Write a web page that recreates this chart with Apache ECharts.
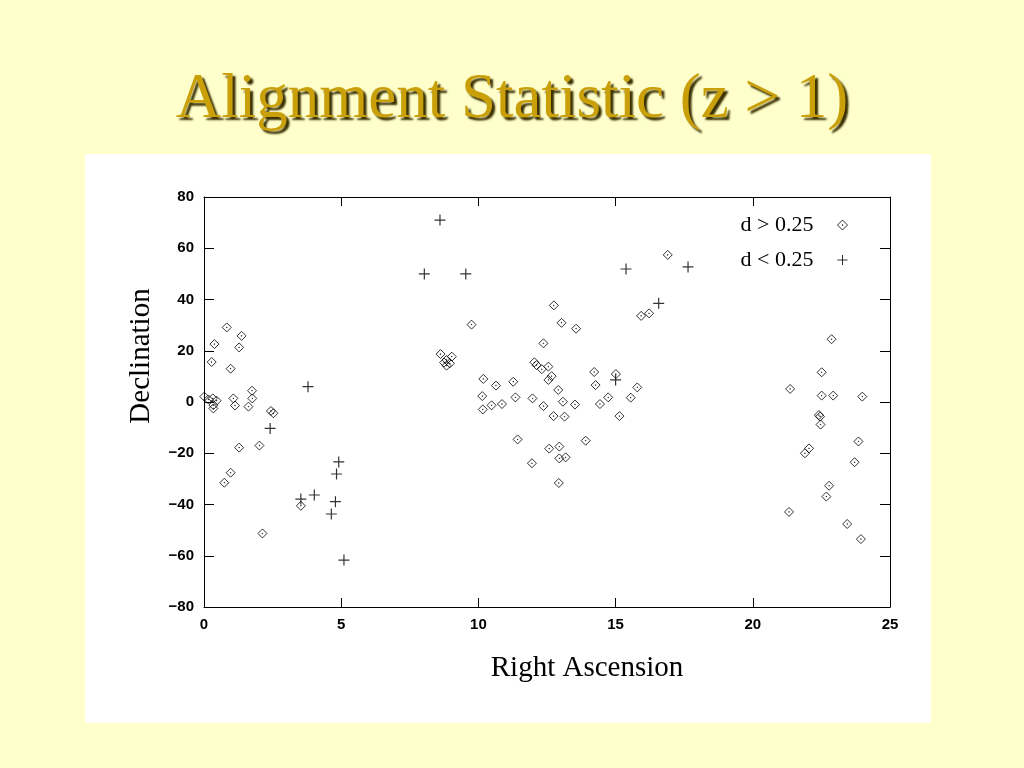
<!DOCTYPE html>
<html>
<head>
<meta charset="utf-8">
<script src="https://cdn.jsdelivr.net/npm/echarts@6/dist/echarts.min.js"></script>
<style>
html,body{margin:0;padding:0;background:#FFFFCC;}
#c{width:1024px;height:768px;}
</style>
</head>
<body>
<div id="c"></div>
<script>
// Right Ascension / Declination for d > 0.25 (diamonds)
var highRA = [0.83,1.37,0.38,1.28,0.28,0.97,1.75,1.76,1.07,1.13,1.62,0.01,0.16,0.32,0.46,0.34,0.34,2.44,2.53,1.28,2.02,0.97,0.74,3.53,2.13,
  9.75,8.62,9.03,8.84,8.75,8.84,8.96,12.75,13.03,13.56,12.37,12.04,12.12,12.31,12.55,12.67,12.55,14.22,14.27,10.18,10.64,11.27,12.91,10.14,11.35,11.97,13.08,13.52,14.43,12.37,10.16,10.48,10.86,12.74,13.14,11.43,13.91,12.58,12.95,12.95,13.18,11.95,12.93,
  15.93,16.22,15.01,15.79,15.55,14.73,15.14,16.9,
  22.87,22.51,21.36,22.51,22.93,23.99,22.41,22.45,22.47,23.85,22.05,21.9,23.71,22.78,22.68,21.32,23.44,23.94];
var highDec = [29.1,25.8,22.6,21.3,15.6,13.0,4.4,1.4,1.4,-1.4,-1.8,2.1,1.0,1.4,0.5,-1.2,-2.5,-3.5,-4.4,-17.8,-17.0,-27.6,-31.5,-40.5,-51.3,
  30.2,18.7,17.7,16.4,15.4,14.2,15.1,37.7,30.9,28.6,22.9,15.5,14.4,12.8,13.8,10.1,8.6,11.7,6.6,9.0,6.4,7.9,4.7,2.3,1.8,1.4,0.1,-1.0,-0.8,-1.6,-2.9,-1.3,-0.8,-5.5,-5.7,-14.6,-15.1,-18.2,-17.4,-22.0,-21.6,-23.9,-31.6,
  33.6,34.6,10.9,5.7,1.7,1.8,-5.5,57.4,
  24.5,11.6,5.1,2.5,2.5,2.1,-5.1,-5.7,-8.8,-15.4,-18.1,-20.0,-23.5,-32.7,-36.9,-42.9,-47.6,-53.5];
// d < 0.25 (plus signs)
var lowRA = [3.79,2.41,4.91,4.83,4.02,3.53,4.79,4.64,5.10,8.6,8.03,9.54,16.57,15.0,15.38,17.64];
var lowDec = [6.0,-10.3,-23.4,-28.1,-36.3,-37.9,-38.9,-43.7,-61.7,71.0,50.0,50.0,38.5,8.6,51.9,52.7];
var xTicks = [0,5,10,15,20,25];
var yTicks = [-80,-60,-40,-20,0,20,40,60,80];
var seriesNames = ['d > 0.25','d < 0.25'];

function pairs(a,b){var r=[];for(var i=0;i<a.length;i++)r.push([a[i],b[i]]);return r;}
var diamondPath = 'path://M5,0L10,5L5,10L0,5Z M4.7,4.7L5.3,4.7L5.3,5.3L4.7,5.3Z';
var plusPath = 'path://M5,0L5,10M0,5L10,5';
var fmtY = function(v){return v<0 ? '\u2212'+Math.abs(v) : String(v);};
var tickFont = {fontFamily:'Liberation Sans',fontSize:15,fontWeight:'bold',color:'#000'};

var chart = echarts.init(document.getElementById('c'));
chart.setOption({
  backgroundColor:'#FFFFCC',
  animation:false,
  title:{text:'Alignment Statistic (z > 1)',left:'center',top:64,
    textStyle:{fontFamily:'Liberation Serif',fontSize:63,fontWeight:'normal',color:'#C9A00A',
      textShadowColor:'#3a3000',textShadowOffsetX:3,textShadowOffsetY:3,textShadowBlur:2}},
  graphic:[
    {type:'rect',z:-10,shape:{x:85,y:154,width:846,height:569},style:{fill:'#FFFFFF'}},
    {type:'text',x:587,y:668,style:{text:'Right Ascension',fontFamily:'Liberation Serif',fontSize:29,fill:'#000',align:'center',verticalAlign:'middle'}},
    {type:'text',x:141,y:356,rotation:Math.PI/2,style:{text:'Declination',fontFamily:'Liberation Serif',fontSize:29,fill:'#000',align:'center',verticalAlign:'middle'}}
  ],
  grid:{left:204,right:134,top:197,bottom:161,show:false},
  legend:{orient:'vertical',right:171,top:209,align:'right',itemWidth:10,itemHeight:10,itemGap:13,
    itemStyle:{borderWidth:1},
    textStyle:{fontFamily:'Liberation Serif',fontSize:22,color:'#000',padding:[0,19,0,0]},
    data:seriesNames},
  xAxis:[
    {type:'value',position:'bottom',min:0,max:25,interval:5,
     axisLine:{show:true,onZero:false,lineStyle:{color:'#000',width:1}},
     axisTick:{show:true,inside:true,length:9,lineStyle:{color:'#000'}},
     axisLabel:Object.assign({margin:10},tickFont),splitLine:{show:false}},
    {type:'value',position:'top',min:0,max:25,interval:5,
     axisLine:{show:true,onZero:false,lineStyle:{color:'#000',width:1}},
     axisTick:{show:true,inside:true,length:9,lineStyle:{color:'#000'}},
     axisLabel:{show:false},splitLine:{show:false}}
  ],
  yAxis:[
    {type:'value',position:'left',min:-80,max:80,interval:20,
     axisLine:{show:true,onZero:false,lineStyle:{color:'#000',width:1}},
     axisTick:{show:true,inside:true,length:10,lineStyle:{color:'#000'}},
     axisLabel:Object.assign({margin:10,formatter:fmtY},tickFont),splitLine:{show:false}},
    {type:'value',position:'right',min:-80,max:80,interval:20,
     axisLine:{show:true,onZero:false,lineStyle:{color:'#000',width:1}},
     axisTick:{show:true,inside:true,length:10,lineStyle:{color:'#000'}},
     axisLabel:{show:false},splitLine:{show:false}}
  ],
  series:[
    {name:seriesNames[0],type:'scatter',xAxisIndex:0,yAxisIndex:0,symbol:diamondPath,symbolSize:9,
     itemStyle:{color:'rgba(255,255,255,0)',borderColor:'#000',borderWidth:1},
     data:pairs(highRA,highDec)},
    {name:seriesNames[1],type:'scatter',xAxisIndex:0,yAxisIndex:0,symbol:plusPath,symbolSize:11,
     itemStyle:{color:'rgba(0,0,0,0)',borderColor:'#000',borderWidth:1.2},
     data:pairs(lowRA,lowDec)}
  ]
});
</script>
</body>
</html>
